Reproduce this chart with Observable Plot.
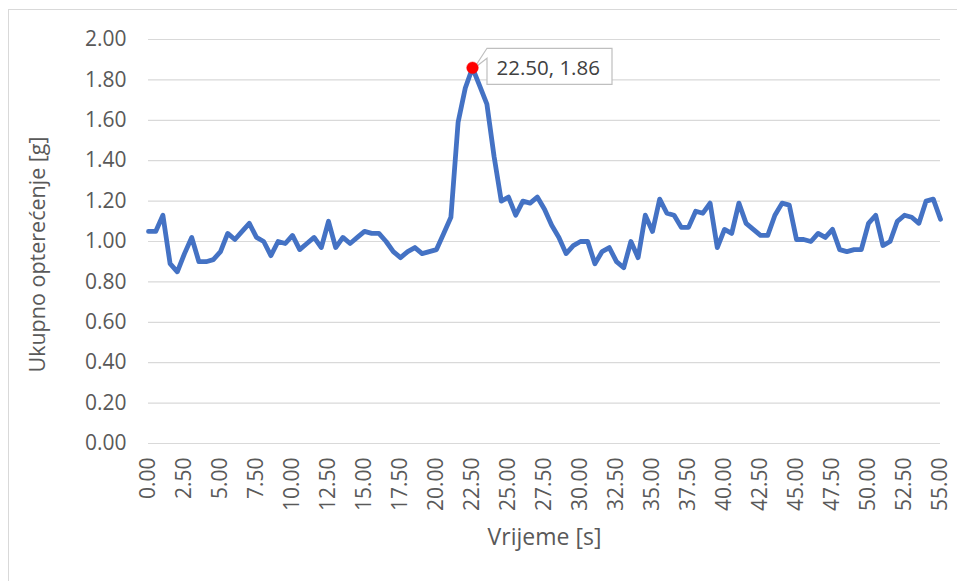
<!DOCTYPE html>
<html><head><meta charset="utf-8">
<script src="https://cdn.jsdelivr.net/npm/d3@7"></script>
<script src="https://cdn.jsdelivr.net/npm/@observablehq/plot@0.6"></script>
<style>
html,body{margin:0;padding:0;background:#fff;overflow:hidden;}
#wrap{position:relative;width:957px;height:581px;}
#frame{position:absolute;left:8px;top:9px;width:1000px;height:1000px;border:1px solid #d9d9d9;box-sizing:border-box}
#chart{position:absolute;left:0;top:0}
</style></head><body><div id="wrap"><div id="frame"></div><div id="chart"></div></div>
<script>
// Sample interval (s) and load values [g]
const timeStep = 0.5;
const loadValues = [
  1.05,1.05,1.13,0.89,0.85,0.94,1.02,0.90,0.90,0.91,
  0.95,1.04,1.01,1.05,1.09,1.02,1.00,0.93,1.00,0.99,
  1.03,0.96,0.99,1.02,0.97,1.10,0.97,1.02,0.99,1.02,
  1.05,1.04,1.04,1.00,0.95,0.92,0.95,0.97,0.94,0.95,
  0.96,1.04,1.12,1.59,1.76,1.86,1.77,1.68,1.42,1.20,
  1.22,1.13,1.20,1.19,1.22,1.16,1.08,1.02,0.94,0.98,
  1.00,1.00,0.89,0.95,0.97,0.90,0.87,1.00,0.92,1.13,
  1.05,1.21,1.14,1.13,1.07,1.07,1.15,1.14,1.19,0.97,
  1.06,1.04,1.19,1.09,1.06,1.03,1.03,1.13,1.19,1.18,
  1.01,1.01,1.00,1.04,1.02,1.06,0.96,0.95,0.96,0.96,
  1.09,1.13,0.98,1.00,1.10,1.13,1.12,1.09,1.20,1.21,
  1.11
];
const xTicks = [0,2.5,5,7.5,10,12.5,15,17.5,20,22.5,25,27.5,30,32.5,35,37.5,40,42.5,45,47.5,50,52.5,55];
const yTicks = [0,0.2,0.4,0.6,0.8,1.0,1.2,1.4,1.6,1.8,2.0];
const xTitle = "Vrijeme [s]";
const yTitle = "Ukupno opterećenje [g]";

const data = loadValues.map((v, i) => ({t: i * timeStep, v}));
const peak = data.reduce((a, b) => (b.v > a.v ? b : a));

const textColor = "#595959";
const font = "'Open Sans', sans-serif";

const callout = (index, scales) => {
  const px = scales.x(peak.t), py = scales.y(peak.v);
  const bx = px + 15, by = py - 19, bw = 125, bh = 36;
  const p = document.createElementNS("http://www.w3.org/2000/svg", "path");
  p.setAttribute("d", `M${bx},${by}H${bx + bw}V${by + bh}H${bx}V${by + 10}L${px + 2},${py + 1}L${bx},${by}Z`);
  p.setAttribute("fill", "#fff");
  p.setAttribute("stroke", "#bfbfbf");
  p.setAttribute("stroke-width", "1.2");
  const g = document.createElementNS("http://www.w3.org/2000/svg", "g");
  g.appendChild(p);
  return g;
};

const plot = Plot.plot({
  width: 957,
  height: 581,
  marginLeft: 148,
  marginRight: 17,
  marginTop: 39,
  marginBottom: 138,
  style: {fontFamily: font, fontSize: "21px", color: textColor, background: "transparent", overflow: "visible"},
  x: {domain: [0, 55]},
  y: {domain: [0, 2]},
  marks: [
    Plot.ruleY(yTicks, {stroke: "#d9d9d9", strokeWidth: 1.2}),
    Plot.axisY(yTicks, {tickSize: 0, tickPadding: 22, tickFormat: d3.format(".2f"), fontSize: 21, label: null}),
    Plot.axisX(xTicks, {tickSize: 0, tickPadding: 14, tickRotate: -90, tickFormat: d3.format(".2f"), fontSize: 21, label: null}),
    Plot.text([yTitle], {frameAnchor: "left", rotate: -90, dx: -110, dy: 13, textAnchor: "middle", lineAnchor: "middle", fontSize: 21.5, fill: textColor}),
    Plot.text([xTitle], {frameAnchor: "bottom", dy: 94, textAnchor: "middle", lineAnchor: "middle", fontSize: 23, fill: textColor}),
    Plot.line(data, {x: "t", y: "v", stroke: "#4472C4", strokeWidth: 4.8, strokeLinejoin: "round", strokeLinecap: "round"}),
    callout,
    Plot.dot([peak], {x: "t", y: "v", r: 5.8, fill: "#ff0000", stroke: "#ff0000", strokeWidth: 0.5}),
    Plot.text([peak], {x: "t", y: "v", text: d => `${d.t.toFixed(2)}, ${d.v.toFixed(2)}`, dx: 24, dy: 1, textAnchor: "start", fontSize: 20.5, fill: "#404040"})
  ]
});
document.getElementById("chart").appendChild(plot);
</script>
</body></html>
